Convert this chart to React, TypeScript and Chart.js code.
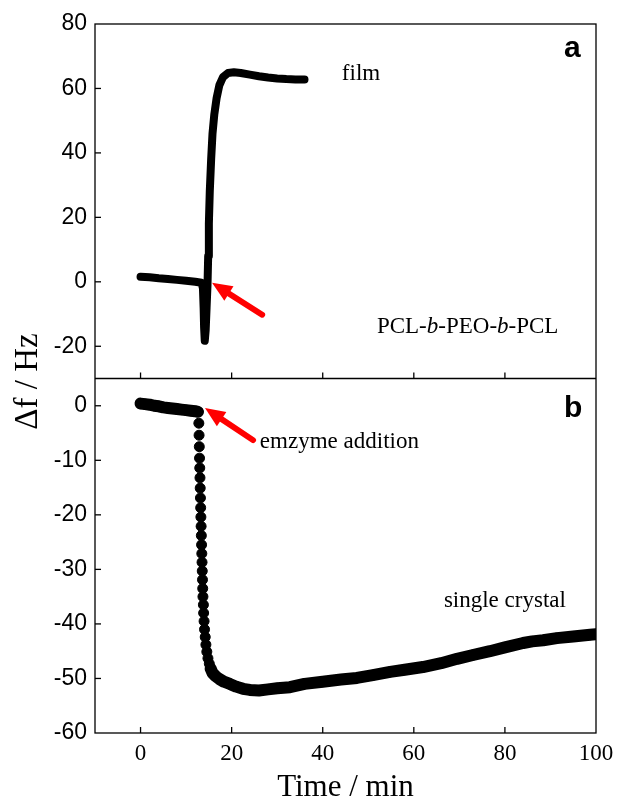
import React, { useEffect, useRef } from "react";
import { Chart, registerables } from "chart.js";

Chart.register(...registerables);

// ---- data ----
const filmTime = [0, 2, 4, 6, 8, 10, 12, 13.4, 13.7, 13.85, 13.95, 14.1, 14.3, 14.5, 14.7, 14.85, 15.0, 15.2, 15.5, 15.8, 16.2, 16.7, 17.3, 18.1, 19.2, 20.5, 22, 24, 26, 28, 30, 32, 34, 36];
const filmShift = [1.6, 1.4, 1.1, 0.9, 0.6, 0.3, 0, -0.3, -2, -8, -14, -18.3, -15, -8, -1, 8, 18, 28, 38, 46, 52, 57, 61, 63.5, 64.8, 65.0, 64.8, 64.3, 63.8, 63.4, 63.1, 62.9, 62.8, 62.8];

const crystalTime = [
  0, 1, 2, 3, 4, 5, 6, 7, 8, 9, 10, 11, 12, 12.6,
  12.8, 12.85, 12.9, 12.95, 13.0, 13.05, 13.1, 13.15, 13.2, 13.25, 13.3, 13.35, 13.4, 13.45, 13.5, 13.55, 13.6, 13.65, 13.7, 13.8, 13.85, 13.95, 14.05, 14.2, 14.35, 14.55, 14.8, 15.1, 15.4, 15.8, 16.5,
  17.3, 18.3, 19.6, 21, 22.5, 24, 26, 28, 30, 32.8, 36, 40, 44, 47.5, 51, 54.8, 58, 62, 66, 69.5, 73, 76.7, 80, 84, 86, 88.4, 91.4, 95, 98.7, 100,
];
const crystalShift = [
  0.4, 0.3, 0.2, 0, -0.1, -0.3, -0.4, -0.5, -0.6, -0.7, -0.8, -0.9, -1.0, -1.1,
  -3.2, -5.4, -7.5, -9.6, -11.4, -13.2, -15.1, -16.9, -18.7, -20.4, -22.1, -23.8, -25.5, -27.1, -28.7, -30.3, -31.9, -33.5, -35.0, -36.5, -38.0, -39.5, -41.0, -42.4, -43.8, -45.1, -46.3, -47.3, -48.2, -49.0, -49.6,
  -50.1, -50.6, -51.0, -51.5, -51.9, -52.1, -52.2, -52.0, -51.8, -51.6, -51.0, -50.6, -50.2, -49.9, -49.4, -48.8, -48.4, -47.9, -47.2, -46.4, -45.7, -45.0, -44.3, -43.5, -43.2, -43.0, -42.6, -42.3, -42.0, -41.9,
];

const xTickValues = [0, 20, 40, 60, 80, 100];
const topTickValues = [-20, 0, 20, 40, 60, 80];
const bottomTickValues = [0, -10, -20, -30, -40, -50, -60];

const xTitle = "Time / min";
const yTitle = "\u0394f / Hz";

// annotation positions in data units of their panel
const notes = [
  { panel: "yTop", x: 44.2, y: 62.6, parts: [{ t: "film", italic: false }] },
  {
    panel: "yTop", x: 51.9, y: -15.9,
    parts: [
      { t: "PCL-", italic: false }, { t: "b", italic: true }, { t: "-PEO-", italic: false },
      { t: "b", italic: true }, { t: "-PCL", italic: false },
    ],
  },
  { panel: "yBot", x: 26.2, y: -7.7, parts: [{ t: "emzyme addition", italic: false }] },
  { panel: "yBot", x: 66.6, y: -36.9, parts: [{ t: "single crystal", italic: false }] },
];
const letters = [
  { panel: "yTop", x: 94.8, y: 69.8, t: "a" },
  { panel: "yBot", x: 95.0, y: -2.05, t: "b" },
];
const arrows = [
  { panel: "yTop", tail: [26.7, -10.2], tip: [15.7, -0.3] },
  { panel: "yBot", tail: [24.7, -6.3], tip: [14.15, -0.4] },
];

const SERIF = '"Liberation Serif", "Times New Roman", Times, serif';
const SANS = '"Liberation Sans", Arial, Helvetica, sans-serif';

function drawArrow(ctx: CanvasRenderingContext2D, x0: number, y0: number, x1: number, y1: number) {
  const ang = Math.atan2(y1 - y0, x1 - x0);
  const headLen = 20;
  const headHalf = 8.5;
  const c = Math.cos(ang), s = Math.sin(ang);
  const bx = x1 - headLen * c, by = y1 - headLen * s;
  ctx.strokeStyle = "#ff0000";
  ctx.fillStyle = "#ff0000";
  ctx.lineWidth = 6;
  ctx.lineCap = "round";
  ctx.beginPath();
  ctx.moveTo(x0, y0);
  ctx.lineTo(bx + 3 * c, by + 3 * s);
  ctx.stroke();
  ctx.beginPath();
  ctx.moveTo(x1, y1);
  ctx.lineTo(bx + headHalf * s, by - headHalf * c);
  ctx.lineTo(bx - headHalf * s, by + headHalf * c);
  ctx.closePath();
  ctx.fill();
}

const framePlugin = {
  id: "frame",
  afterDatasetsDraw(chart: any) {
    const { ctx, chartArea: a, scales } = chart;
    const x = scales.x, yT = scales.yTop, yB = scales.yBot;
    const mid = yT.bottom;
    ctx.save();
    ctx.strokeStyle = "#000";
    ctx.lineWidth = 1.3;
    ctx.lineCap = "butt";
    ctx.strokeRect(a.left, a.top, a.right - a.left, a.bottom - a.top);
    const line = (x0: number, y0: number, x1: number, y1: number) => {
      ctx.beginPath();
      ctx.moveTo(x0, y0);
      ctx.lineTo(x1, y1);
      ctx.stroke();
    };
    line(a.left, mid, a.right, mid);
    const tl = 6;
    x.ticks.forEach((t: any) => {
      const px = x.getPixelForValue(t.value);
      if (px <= a.left + 1 || px >= a.right - 1) return;
      line(px, a.bottom, px, a.bottom - tl);
      line(px, mid, px, mid - tl);
    });
    [yT, yB].forEach((s: any) => {
      s.ticks.forEach((t: any) => {
        const py = s.getPixelForValue(t.value);
        if (py <= s.top + 1 || py >= s.bottom - 1) return;
        line(a.left, py, a.left + tl, py);
      });
    });

    // arrows
    arrows.forEach((ar) => {
      const ys = scales[ar.panel];
      drawArrow(ctx, x.getPixelForValue(ar.tail[0]), ys.getPixelForValue(ar.tail[1]),
        x.getPixelForValue(ar.tip[0]), ys.getPixelForValue(ar.tip[1]));
    });

    // annotations
    ctx.fillStyle = "#000";
    ctx.textBaseline = "alphabetic";
    ctx.textAlign = "left";
    notes.forEach((n) => {
      const ys = scales[n.panel];
      let px = x.getPixelForValue(n.x);
      const py = ys.getPixelForValue(n.y);
      n.parts.forEach((p) => {
        ctx.font = `${p.italic ? "italic " : ""}23px ${SERIF}`;
        ctx.fillText(p.t, px, py);
        px += ctx.measureText(p.t).width;
      });
    });
    ctx.font = `bold 30px ${SANS}`;
    ctx.textAlign = "center";
    letters.forEach((l) => {
      const ys = scales[l.panel];
      ctx.fillText(l.t, x.getPixelForValue(l.x), ys.getPixelForValue(l.y));
    });

    // axis titles
    ctx.font = `31px ${SERIF}`;
    ctx.textAlign = "center";
    ctx.fillText(xTitle, (a.left + a.right) / 2, 796);
    ctx.save();
    ctx.translate(37, (a.top + a.bottom) / 2 + 3);
    ctx.rotate(-Math.PI / 2);
    ctx.font = `33px ${SERIF}`;
    ctx.fillText(yTitle, 0, 0);
    ctx.restore();
    ctx.restore();
  },
};

export default function App() {
  const ref = useRef<HTMLCanvasElement>(null);
  useEffect(() => {
    const film = filmTime.map((t, i) => ({ x: t, y: filmShift[i] }));
    const crystal = crystalTime.map((t, i) => ({ x: t, y: crystalShift[i] }));
    const chart = new Chart(ref.current!, {
      type: "line",
      data: {
        datasets: [
          {
            label: "film",
            data: film,
            yAxisID: "yTop",
            borderColor: "#000",
            backgroundColor: "#000",
            borderWidth: 8,
            pointRadius: 0,
            borderJoinStyle: "round",
            borderCapStyle: "round",
            tension: 0,
            fill: false,
          },
          {
            label: "single crystal",
            data: crystal,
            yAxisID: "yBot",
            borderColor: "#000",
            backgroundColor: "#000",
            borderWidth: 12,
            pointRadius: 5,
            pointBorderWidth: 1,
            pointBorderColor: "#000",
            pointBackgroundColor: "#000",
            borderJoinStyle: "round",
            borderCapStyle: "round",
            tension: 0,
            fill: false,
            segment: {
              borderColor: (c: any) => {
                const dx = Math.abs(c.p1.x - c.p0.x);
                const dy = Math.abs(c.p1.y - c.p0.y);
                return dy > 2.5 * dx ? "rgba(0,0,0,0)" : "#000";
              },
            },
          },
        ] as any,
      },
      options: {
        responsive: false,
        animation: false,
        events: [],
        layout: { padding: { top: 24, right: 21, left: 0, bottom: 0 } },
        plugins: { legend: { display: false }, tooltip: { enabled: false } },
        scales: {
          x: {
            type: "linear",
            position: "bottom",
            min: -10,
            max: 100,
            afterBuildTicks: (s: any) => { s.ticks = xTickValues.map((v) => ({ value: v })); },
            afterFit: (s: any) => { s.height = 68; s.paddingLeft = 0; s.paddingRight = 0; },
            grid: { display: false, drawTicks: false },
            border: { display: false },
            ticks: { color: "#000", padding: 7, font: { family: SERIF, size: 23 } },
          },
          yBot: {
            type: "linear",
            position: "left",
            stack: "panels",
            stackWeight: 1,
            min: -60,
            max: 5,
            afterBuildTicks: (s: any) => { s.ticks = bottomTickValues.map((v) => ({ value: v })); },
            afterFit: (s: any) => { s.width = 95; s.paddingTop = 0; s.paddingBottom = 0; },
            grid: { display: false, drawTicks: false },
            border: { display: false },
            ticks: { color: "#000", padding: 8, font: { family: SANS, size: 23 } },
          },
          yTop: {
            type: "linear",
            position: "left",
            stack: "panels",
            stackWeight: 1,
            min: -30,
            max: 80,
            afterBuildTicks: (s: any) => { s.ticks = topTickValues.map((v) => ({ value: v })); },
            afterFit: (s: any) => { s.width = 95; s.paddingTop = 0; s.paddingBottom = 0; },
            grid: { display: false, drawTicks: false },
            border: { display: false },
            ticks: { color: "#000", padding: 8, font: { family: SANS, size: 23 } },
          },
        },
      } as any,
      plugins: [framePlugin],
    });
    return () => chart.destroy();
  }, []);
  return (
    <div style={{ position: "fixed", left: 0, top: 0, width: 617, height: 801, background: "#fff" }}>
      <canvas ref={ref} width={617} height={801} />
    </div>
  );
}
